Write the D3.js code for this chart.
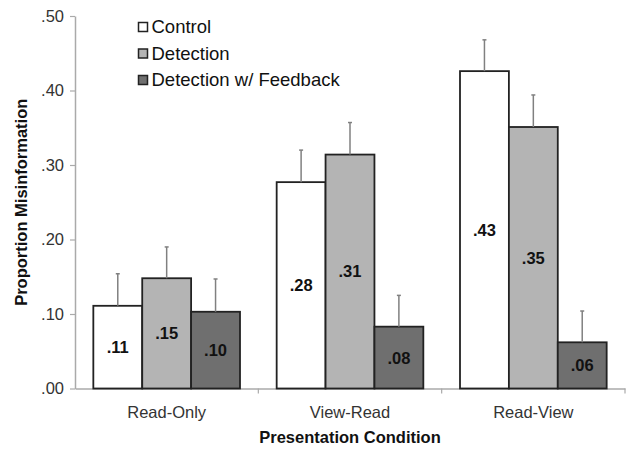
<!DOCTYPE html>
<html>
<head>
<meta charset="utf-8">
<script src="https://cdn.jsdelivr.net/npm/d3@7"></script>
<style>
  html, body { margin: 0; padding: 0; background: #fff; }
  svg { display: block; font-family: "Liberation Sans", Arial, sans-serif; }
</style>
</head>
<body>
<svg id="chart" width="629" height="450"></svg>
<script>
// Presentation conditions on the x axis
const conditions = ["Read-Only", "View-Read", "Read-View"];
// Groups shown within each condition
const groups = ["Control", "Detection", "Detection w/ Feedback"];
// Mean proportion of misinformation per group, one value per condition
const controlMeans = [0.111, 0.277, 0.426];
const detectionMeans = [0.148, 0.314, 0.351];
const feedbackMeans = [0.103, 0.083, 0.062];
// Standard errors (drawn upward only)
const controlErrors = [0.043, 0.043, 0.042];
const detectionErrors = [0.042, 0.043, 0.043];
const feedbackErrors = [0.044, 0.042, 0.042];
// Y axis ticks
const yTicks = [0, 0.1, 0.2, 0.3, 0.4, 0.5];

const groupMeans = [controlMeans, detectionMeans, feedbackMeans];
const groupErrors = [controlErrors, detectionErrors, feedbackErrors];
const fills = ["#ffffff", "#b4b4b4", "#6f6f6f"];

const rows = [];
conditions.forEach((c, ci) => {
  groups.forEach((g, gi) => {
    rows.push({ condition: c, group: g, gi, value: groupMeans[gi][ci], err: groupErrors[gi][ci] });
  });
});

const svg = d3.select("#chart");
const plotLeft = 75, plotRight = 625, plotTop = 16, plotBottom = 388.5;

const y = d3.scaleLinear().domain([0, 0.5]).range([plotBottom, plotTop]);
const x0 = d3.scaleBand().domain(conditions).range([plotLeft, plotRight]).padding(0);
const x1 = d3.scaleBand().domain(groups).range([0, x0.bandwidth()]).paddingInner(0).paddingOuter(0.375);
const color = d3.scaleOrdinal().domain(groups).range(fills);

const fmt = d => d3.format(".2f")(d).replace(/^0/, "");

// Y axis
const yAxis = svg.append("g")
  .attr("transform", `translate(${plotLeft},0)`)
  .call(d3.axisLeft(y).tickValues(yTicks).tickFormat(fmt).tickSize(5).tickSizeOuter(0));
yAxis.select(".domain").attr("stroke", "#aaa").attr("stroke-width", 1.5);
yAxis.selectAll(".tick line").attr("stroke", "#aaa").attr("stroke-width", 1.2);
yAxis.selectAll(".tick text")
  .attr("x", -11)
  .attr("fill", "#333")
  .style("font-size", "16.5px")
  .style("font-family", "'Liberation Sans', Arial, sans-serif");

// X axis: baseline, category labels and separator ticks at band edges
const xAxis = svg.append("g")
  .attr("transform", `translate(0,${plotBottom})`)
  .call(d3.axisBottom(x0).tickSize(0).tickPadding(18).tickSizeOuter(0));
xAxis.select(".domain").attr("stroke", "#aaa").attr("stroke-width", 1.5);
xAxis.selectAll(".tick text")
  .attr("fill", "#333")
  .style("font-size", "16.5px")
  .style("font-family", "'Liberation Sans', Arial, sans-serif");
xAxis.selectAll("line.sep")
  .data(conditions)
  .join("line")
  .attr("class", "sep")
  .attr("x1", d => x0(d) + x0.step())
  .attr("x2", d => x0(d) + x0.step())
  .attr("y1", 0).attr("y2", 5)
  .attr("stroke", "#aaa").attr("stroke-width", 1.2);

// Bars
const barG = svg.append("g");
barG.selectAll("rect")
  .data(rows)
  .join("rect")
  .attr("x", d => x0(d.condition) + x1(d.group))
  .attr("y", d => y(d.value))
  .attr("width", x1.bandwidth())
  .attr("height", d => y(0) - y(d.value))
  .attr("fill", d => color(d.group))
  .attr("stroke", "#222")
  .attr("stroke-width", 1.8);

// Error bars (upper half only)
const errG = svg.append("g").attr("stroke", "#808080").attr("stroke-width", 1.5);
errG.selectAll("line.stem")
  .data(rows)
  .join("line")
  .attr("class", "stem")
  .attr("x1", d => x0(d.condition) + x1(d.group) + x1.bandwidth() / 2)
  .attr("x2", d => x0(d.condition) + x1(d.group) + x1.bandwidth() / 2)
  .attr("y1", d => y(d.value))
  .attr("y2", d => y(d.value + d.err));
errG.selectAll("line.cap")
  .data(rows)
  .join("line")
  .attr("class", "cap")
  .attr("x1", d => x0(d.condition) + x1(d.group) + x1.bandwidth() / 2 - 2)
  .attr("x2", d => x0(d.condition) + x1(d.group) + x1.bandwidth() / 2 + 2)
  .attr("y1", d => y(d.value + d.err))
  .attr("y2", d => y(d.value + d.err));

// Value labels centred in each bar
svg.append("g").selectAll("text")
  .data(rows)
  .join("text")
  .attr("x", d => x0(d.condition) + x1(d.group) + x1.bandwidth() / 2)
  .attr("y", d => (y(d.value) + y(0)) / 2)
  .attr("dy", "0.36em")
  .attr("text-anchor", "middle")
  .attr("fill", "#111")
  .style("font-size", "16.5px")
  .style("font-weight", "bold")
  .text(d => fmt(d.value));

// Axis titles
svg.append("text")
  .attr("x", (plotLeft + plotRight) / 2)
  .attr("y", 443)
  .attr("text-anchor", "middle")
  .attr("fill", "#111")
  .style("font-size", "16.5px")
  .style("font-weight", "bold")
  .text("Presentation Condition");

svg.append("text")
  .attr("transform", `translate(27,${(plotTop + plotBottom) / 2}) rotate(-90)`)
  .attr("text-anchor", "middle")
  .attr("fill", "#111")
  .style("font-size", "16.5px")
  .style("font-weight", "bold")
  .text("Proportion Misinformation");

// Legend
const legend = svg.append("g").attr("transform", "translate(138,22)");
const item = legend.selectAll("g")
  .data(groups)
  .join("g")
  .attr("transform", (d, i) => `translate(0,${i * 26.5})`);
item.append("rect")
  .attr("x", 0.5).attr("y", 0.5)
  .attr("width", 9).attr("height", 9)
  .attr("fill", d => color(d))
  .attr("stroke", "#222")
  .attr("stroke-width", 1.5);
item.append("text")
  .attr("x", 13.5)
  .attr("y", 11)
  .attr("fill", "#111")
  .style("font-size", "18.5px")
  .text(d => d);
</script>
</body>
</html>
